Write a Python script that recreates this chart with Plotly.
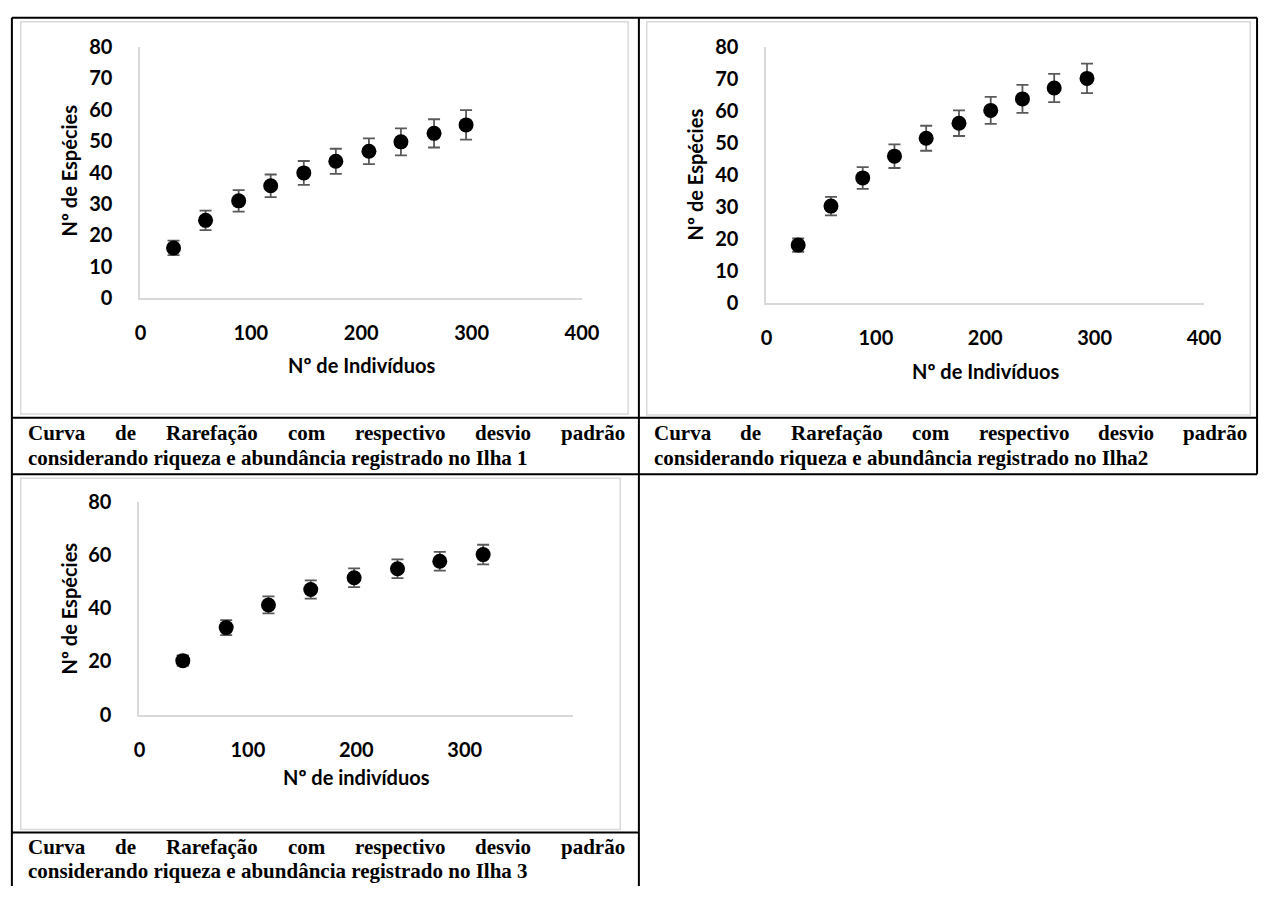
import plotly.graph_objects as go

W, H = 1278, 897

# ---------------- data ----------------
# Ilha 1
x1 = [30, 59, 89, 118, 148, 177, 207, 236, 266, 295]
y1 = [16.0, 24.8, 31.0, 35.8, 39.9, 43.6, 46.8, 49.8, 52.5, 55.2]
e1 = [2.3, 3.1, 3.4, 3.6, 3.8, 4.0, 4.1, 4.3, 4.5, 4.7]
# Ilha 2
x2 = [29, 59, 88, 117, 146, 176, 205, 234, 263, 293]
y2 = [18.1, 30.3, 39.1, 45.9, 51.5, 56.2, 60.2, 63.8, 67.2, 70.2]
e2 = [2.1, 2.9, 3.4, 3.7, 3.9, 4.0, 4.2, 4.4, 4.4, 4.6]
# Ilha 3
x3 = [40, 80, 119, 158, 198, 238, 277, 317]
y3 = [20.3, 32.7, 41.2, 47.0, 51.4, 54.8, 57.6, 60.1]
e3 = [2.0, 2.8, 3.2, 3.4, 3.5, 3.5, 3.5, 3.7]

yticks_12 = [0, 10, 20, 30, 40, 50, 60, 70, 80]
xticks_12 = [0, 100, 200, 300, 400]
yticks_3 = [0, 20, 40, 60, 80]
xticks_3 = [0, 100, 200, 300]

ytitle = "Nº de Espécies"
xtitle_12 = "Nº de Indivíduos"
xtitle_3 = "Nº de indivíduos"
cap_line1 = ["Curva", "de", "Rarefação", "com", "respectivo", "desvio", "padrão"]
cap_line2 = [
    "considerando riqueza e abundância registrado no Ilha 1",
    "considerando riqueza e abundância registrado no Ilha2",
    "considerando riqueza e abundância registrado no Ilha 3",
]

# ---------------- helpers ----------------
def fx(px):
    return px / W

def fy(py):
    return 1 - py / H

TICKFONT = dict(family="Lato", size=20, color="black", weight="bold")
TITLEFONT = dict(family="Lato", size=20, color="black", weight="bold")
CAPFONT = dict(family="Liberation Serif", size=21, color="black", weight="bold")
AXCOL = "#d9d9d9"

fig = go.Figure()

def add_series(x, y, e, xa, ya):
    fig.add_trace(go.Scatter(
        x=x, y=y, mode="markers", xaxis=xa, yaxis=ya,
        marker=dict(size=15, color="black"),
        error_y=dict(type="data", array=e, visible=True,
                     color="#595959", thickness=1.8, width=6),
        showlegend=False, hoverinfo="skip"))

add_series(x1, y1, e1, "x", "y")
add_series(x2, y2, e2, "x2", "y2")
add_series(x3, y3, e3, "x3", "y3")

def xax(dom, anchor, rng, tv):
    return dict(domain=[fx(dom[0]), fx(dom[1])], anchor=anchor, range=rng,
                tickvals=tv, ticktext=[str(v) for v in tv],
                showgrid=False, zeroline=False, showline=True,
                linecolor=AXCOL, linewidth=2, ticks="",
                tickfont=TICKFONT, ticklabelstandoff=16, fixedrange=True)

def yax(dom, anchor, rng, tv):
    return dict(domain=[fy(dom[1]), fy(dom[0])], anchor=anchor, range=rng,
                tickvals=tv, ticktext=[str(v) for v in tv],
                showgrid=False, zeroline=False, showline=True,
                linecolor=AXCOL, linewidth=2, ticks="",
                tickfont=TICKFONT, ticklabelstandoff=22, fixedrange=True)

fig.update_layout(
    width=W, height=H, margin=dict(l=0, r=0, t=0, b=0),
    paper_bgcolor="white", plot_bgcolor="white",
    xaxis=xax((137, 587), "y", [0, 400], xticks_12),
    yaxis=yax((35, 293), "x", [0, 80], yticks_12),
    xaxis2=xax((775, 1221), "y2", [0, 400], xticks_12),
    yaxis2=yax((35, 298), "x2", [0, 80], yticks_12),
    xaxis3=xax((136, 578), "y3", [0, 400], xticks_3),
    yaxis3=yax((502, 721), "x3", [0, 80], yticks_3),
)

shapes = []
def line(xa, ya, xb, yb, color="black", w=2):
    shapes.append(dict(type="line", xref="paper", yref="paper",
                       x0=fx(xa), y0=fy(ya), x1=fx(xb), y1=fy(yb),
                       line=dict(color=color, width=w), layer="above"))

def frame(xa, ya, xb, yb):
    shapes.append(dict(type="rect", xref="paper", yref="paper",
                       x0=fx(xa), y0=fy(ya), x1=fx(xb), y1=fy(yb),
                       line=dict(color=AXCOL, width=1.5), layer="below"))

# chart frames
frame(15, 9, 634, 412)
frame(653, 9, 1268, 413)
frame(15, 478, 626, 839)

# table lines
line(6, 5, 1275, 5)
line(6, 5, 6, 897)
line(645, 5, 645, 897)
line(1275, 5, 1275, 474)
line(6, 416, 1275, 416)
line(6, 474, 1275, 474)
line(6, 842, 645, 842)

fig.update_layout(shapes=shapes)

anns = []
def text(t, x, y, font, xanchor="center", angle=0):
    anns.append(dict(text=t, x=fx(x), y=fy(y), xref="paper", yref="paper",
                     showarrow=False, xanchor=xanchor, yanchor="middle",
                     textangle=angle, font=font, borderpad=0))

# axis titles
text(ytitle, 64, 162, TITLEFONT, angle=-90)
text(ytitle, 702, 166, TITLEFONT, angle=-90)
text(ytitle, 64, 612, TITLEFONT, angle=-90)
text(xtitle_12, 362, 362, TITLEFONT)
text(xtitle_12, 998, 368, TITLEFONT)
text(xtitle_3, 357, 785, TITLEFONT)

# Times bold metrics (per 1000 em) for justification
TB = {'a': 500, 'b': 556, 'c': 444, 'd': 556, 'e': 444, 'f': 333, 'g': 500,
      'h': 556, 'i': 278, 'l': 278, 'm': 833, 'n': 556, 'o': 500, 'p': 556,
      'q': 556, 'r': 444, 's': 389, 't': 333, 'u': 556, 'v': 500, 'z': 444,
      'C': 722, 'R': 722, 'I': 389, 'ç': 444, 'ã': 500, 'â': 500, ' ': 250}

def tw(s, size):
    return sum(TB.get(c, 500) for c in s) / 1000 * size

def justified(words, x0, x1, y, font):
    widths = [tw(w, font["size"]) for w in words]
    gap = (x1 - x0 - sum(widths)) / (len(words) - 1)
    x = x0
    for w, wd in zip(words, widths):
        text(w, x, y, font, xanchor="left")
        x += wd + gap

justified(cap_line1, 21, 629, 432, CAPFONT)
justified(cap_line1, 659, 1263, 432, CAPFONT)
justified(cap_line1, 21, 629, 857, CAPFONT)
text(cap_line2[0], 21, 457, CAPFONT, xanchor="left")
text(cap_line2[1], 659, 457, CAPFONT, xanchor="left")
text(cap_line2[2], 21, 882, CAPFONT, xanchor="left")

fig.update_layout(annotations=anns)

fig.write_html("out.html")
